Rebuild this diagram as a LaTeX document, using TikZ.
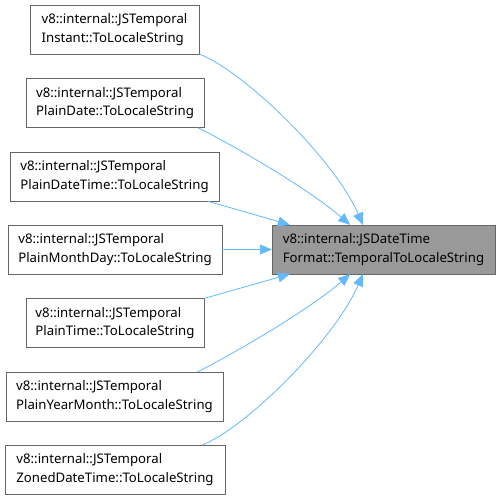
\documentclass[tikz,border=0pt]{standalone}
\usepackage{fontspec}
\setmainfont{Noto Sans}
\usetikzlibrary{arrows.meta, calc}

\definecolor{edgeblue}{HTML}{63B8FF}
\definecolor{boxgray}{HTML}{999999}
\definecolor{boxline}{HTML}{666666}

\begin{document}
\begin{tikzpicture}[
    x=0.75pt, y=-0.75pt,
    fnbox/.style={draw=boxline, fill=white, inner sep=0pt, minimum height=36.5pt,
                  align=left, font=\fontsize{9.9}{14}\selectfont},
    mainbox/.style={fnbox, fill=boxgray},
    callarrow/.style={-{Stealth[length=9pt, width=7.5pt, inset=0pt]}, edgeblue, line width=0.6pt},
]

% ===================== FRAME =====================
\useasboundingbox (0,0) rectangle (499,499);

% ===================== TARGET =====================
\node[mainbox, minimum width=167pt] (target) at (383.5,249.5)
    {v8::internal::JSDateTime\\Format::TemporalToLocaleString};

% ===================== CALLERS =====================
\node[fnbox, minimum width=127pt] (inst)  at (114.5,29.5)
    {v8::internal::JSTemporal\\Instant::ToLocaleString};
\node[fnbox, minimum width=133.5pt] (pdate) at (115,103)
    {v8::internal::JSTemporal\\PlainDate::ToLocaleString};
\node[fnbox, minimum width=157pt] (pdt)   at (114.5,176.5)
    {v8::internal::JSTemporal\\PlainDateTime::ToLocaleString};
\node[fnbox, minimum width=160.5pt] (pmd)   at (115,249.5)
    {v8::internal::JSTemporal\\PlainMonthDay::ToLocaleString};
\node[fnbox, minimum width=133.5pt] (ptime) at (115,323)
    {v8::internal::JSTemporal\\PlainTime::ToLocaleString};
\node[fnbox, minimum width=163pt] (pym)   at (114.5,396.5)
    {v8::internal::JSTemporal\\PlainYearMonth::ToLocaleString};
\node[fnbox, minimum width=165pt] (zdt)   at (115,469.5)
    {v8::internal::JSTemporal\\ZonedDateTime::ToLocaleString};

% ===================== CALL EDGES =====================
\draw[callarrow] (inst.south east) .. controls (245,72) and (335,160) .. ([xshift=-15.5pt]target.north);
\draw[callarrow] ([xshift=-5pt]pdate.south east) .. controls (235,146) and (310,190) .. ([xshift=-25pt]target.north);
\draw[callarrow] ([xshift=-9pt]pdt.south east) -- ([xshift=13.5pt]target.north west);
\draw[callarrow] (pmd.east) -- (target.west);
\draw[callarrow] (ptime.north east) -- ([xshift=13.5pt]target.south west);
\draw[callarrow] ([xshift=-19.5pt]pym.north east) .. controls (235,353) and (310,309) .. ([xshift=-25pt]target.south);
\draw[callarrow] ([xshift=-17pt]zdt.north east) .. controls (247,427) and (335,339) .. ([xshift=-15.5pt]target.south);

\end{tikzpicture}
\end{document}
